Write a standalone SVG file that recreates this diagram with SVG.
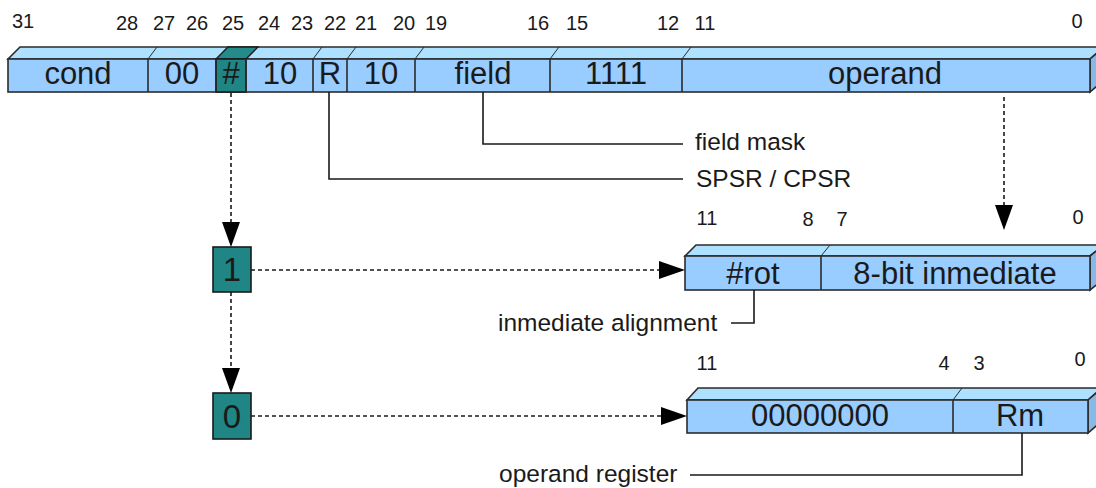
<svg xmlns="http://www.w3.org/2000/svg" width="1096" height="488" viewBox="0 0 1096 488">
<defs>
<style>
text{font-family:"Liberation Sans",Arial,sans-serif;fill:#1a1a1a}
.big{font-size:31px;text-anchor:middle}
.num{font-size:33px;text-anchor:middle}
.bit{font-size:20px;text-anchor:middle}
.lbl{font-size:24.5px}
.front{fill:#99ccff;stroke:#2b2b2b;stroke-width:1.6}
.top{fill:#aee0ff;stroke:#2b2b2b;stroke-width:1.6}
.side{fill:#86b8e8;stroke:#2b2b2b;stroke-width:1.6}
.div{stroke:#2b2b2b;stroke-width:1.6;fill:none}
.tick{stroke:#2b2b2b;stroke-width:1;fill:none}
.teal{fill:#1f8585;stroke:#1a1a1a;stroke-width:1.6}
.tealtop{fill:#248a8a;stroke:#1a1a1a;stroke-width:1.3}
.dash{stroke:#1a1a1a;stroke-width:1.6;stroke-dasharray:4 3;fill:none}
.solid{stroke:#1a1a1a;stroke-width:1.6;fill:none}
.ah{fill:#000}
</style>
</defs>

<g id="bits-top">
<text class="bit" x="23" y="28">31</text>
<text class="bit" x="127" y="30">28</text>
<text class="bit" x="164" y="30">27</text>
<text class="bit" x="197" y="30">26</text>
<text class="bit" x="233" y="30">25</text>
<text class="bit" x="269" y="30">24</text>
<text class="bit" x="302" y="30">23</text>
<text class="bit" x="335" y="30">22</text>
<text class="bit" x="366" y="30">21</text>
<text class="bit" x="404" y="30">20</text>
<text class="bit" x="436" y="30">19</text>
<text class="bit" x="538" y="30">16</text>
<text class="bit" x="577" y="30">15</text>
<text class="bit" x="668" y="30">12</text>
<text class="bit" x="705" y="30">11</text>
<text class="bit" x="1077" y="28">0</text>
</g>

<g id="instruction-bar">
<polygon class="top" points="8,59 20,47 1104,47 1090,59"/>
<polygon class="side" points="1090,59 1104,47 1104,80 1090,92"/>
<rect class="front" x="8" y="59" width="1082" height="33"/>
<polygon class="tealtop" points="216,59 228,47 258,47 246,59"/>
<rect class="teal" x="216" y="59" width="30" height="33"/>
<path class="div" d="M148,59V92M216,59V92M246,59V92M313,59V92M347,59V92M415,59V92M550,59V92M682,59V92"/>
<path class="tick" d="M148,59l9,-12M313,59l9,-12M347,59l9,-12M415,59l9,-12M550,59l9,-12M682,59l9,-12"/>
<text class="big" x="78" y="84">cond</text>
<text class="big" x="182" y="84">00</text>
<text class="big" x="231" y="84">#</text>
<text class="big" x="280" y="84">10</text>
<text class="big" x="330" y="84">R</text>
<text class="big" x="381" y="84">10</text>
<text class="big" x="483" y="84">field</text>
<text class="big" x="616" y="84">1111</text>
<text class="big" x="885" y="84">operand</text>
</g>

<g id="box-1">
<rect class="teal" x="213" y="247" width="38" height="45"/>
<text class="num" x="232" y="281">1</text>
</g>

<g id="box-0">
<rect class="teal" x="213" y="393" width="38" height="46"/>
<text class="num" x="232" y="428">0</text>
</g>

<g id="immediate-bar">
<text class="bit" x="707" y="225">11</text>
<text class="bit" x="808" y="226">8</text>
<text class="bit" x="842" y="226">7</text>
<text class="bit" x="1078" y="224">0</text>
<polygon class="top" points="685,256 696,245 1104,245 1090,256"/>
<polygon class="side" points="1090,256 1104,245 1104,279 1090,290"/>
<rect class="front" x="685" y="256" width="405" height="34"/>
<path class="div" d="M821,256V290"/>
<path class="tick" d="M821,256l9,-11"/>
<text class="big" x="753" y="284">#rot</text>
<text class="big" x="955" y="284">8-bit inmediate</text>
</g>

<g id="register-bar">
<text class="bit" x="707" y="370">11</text>
<text class="bit" x="944" y="370">4</text>
<text class="bit" x="979" y="370">3</text>
<text class="bit" x="1080" y="366">0</text>
<polygon class="top" points="687,400 698,388 1102,388 1088,400"/>
<polygon class="side" points="1088,400 1102,388 1102,421 1088,433"/>
<rect class="front" x="687" y="400" width="401" height="33"/>
<path class="div" d="M953,400V433"/>
<path class="tick" d="M953,400l9,-12"/>
<text class="big" x="820" y="426">00000000</text>
<text class="big" x="1020" y="426">Rm</text>
</g>

<g id="labels">
<text class="lbl" x="695" y="150">field mask</text>
<text class="lbl" x="696" y="187">SPSR / CPSR</text>
<text class="lbl" x="498" y="331">inmediate alignment</text>
<text class="lbl" x="499" y="482">operand register</text>
</g>

<g id="connectors">
<path class="dash" d="M231,93V224"/>
<polygon class="ah" points="222,222 240,222 231,247"/>
<path class="dash" d="M231,292V370"/>
<polygon class="ah" points="222,368 240,368 231,393"/>
<path class="dash" d="M251,270H661"/>
<polygon class="ah" points="659,261 659,279 685,270"/>
<path class="dash" d="M251,416H663"/>
<polygon class="ah" points="661,407 661,425 687,416"/>
<path class="dash" d="M1004,97V207"/>
<polygon class="ah" points="995,205 1013,205 1004,230"/>
<path class="solid" d="M483,92V144H683"/>
<path class="solid" d="M329,92V179H683"/>
<path class="solid" d="M754,290V323H731"/>
<path class="solid" d="M1022,433V475H690"/>
</g>
</svg>
